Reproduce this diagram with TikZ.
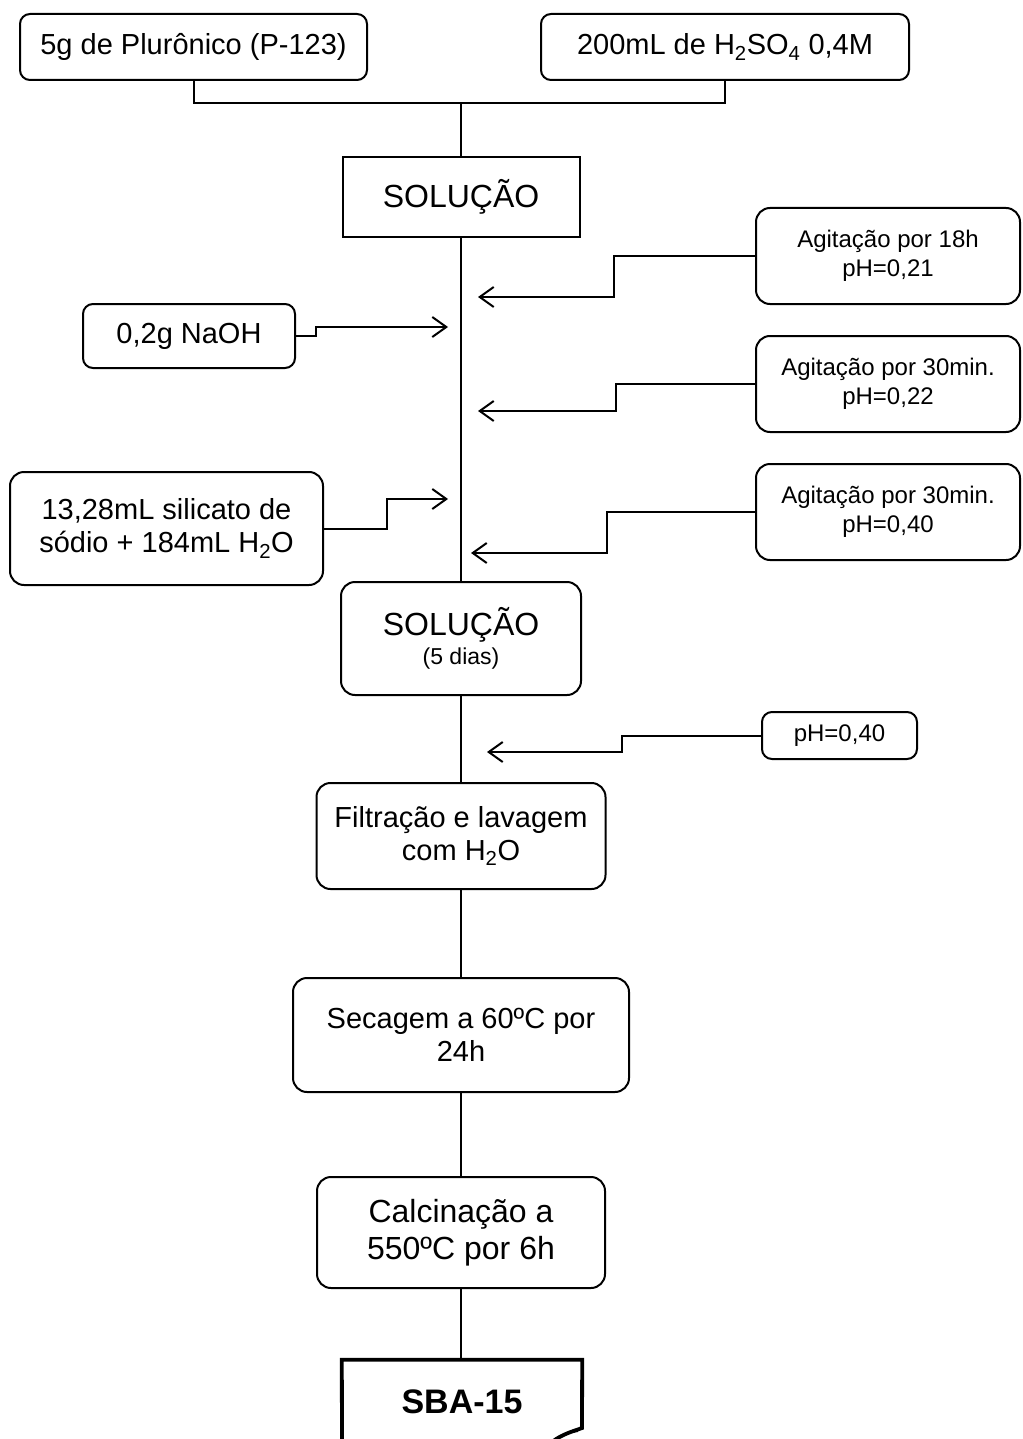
\documentclass[tikz,border=0pt]{standalone}
\usepackage{fontspec}
\setmainfont{Liberation Sans}
\usetikzlibrary{arrows.meta}
\begin{document}
\begin{tikzpicture}[x=1pt,y=-1pt,
  box/.style={draw, line width=2pt, rounded corners=14pt, align=center, inner sep=0pt},
  sbox/.style={box, rounded corners=10pt},
  fa/.style={font=\fontsize{29}{33}\selectfont},
  fb/.style={font=\fontsize{24}{29}\selectfont},
  fc/.style={font=\fontsize{32}{37}\selectfont},
  conn/.style={line width=2pt},
  arr/.style={line width=2pt, -{Straight Barb[length=14pt,width=20pt]}}]
\clip (0,0) rectangle (1022,1439);
\fill[white] (0,0) rectangle (1022,1439);

% top inputs
\node[sbox, fa, minimum width=347pt, minimum height=66pt] (p123) at (193.5,47) {5g de Plurônico (P-123)};
\node[sbox, fa, minimum width=368pt, minimum height=66pt] (acid) at (725,47) {200mL de H\textsubscript{2}SO\textsubscript{4} 0,4M};
\node[draw, line width=2pt, fc, minimum width=237pt, minimum height=80pt, inner sep=0pt] (sol1) at (461,197) {SOLUÇÃO};

% right-hand conditions
\node[box, fb, minimum width=264pt, minimum height=96pt] (ag1) at (888,256) {Agitação por 18h\\pH=0,21};
\node[box, fb, minimum width=264pt, minimum height=96pt] (ag2) at (888,384) {Agitação por 30min.\\pH=0,22};
\node[box, fb, minimum width=264pt, minimum height=96pt] (ag3) at (888,512) {Agitação por 30min.\\pH=0,40};

% left-hand additions
\node[sbox, fa, minimum width=212pt, minimum height=64pt] (naoh) at (189,336) {0,2g NaOH};
\node[box, fa, minimum width=313pt, minimum height=113pt] (silic) at (166.5,528.5) {13,28mL silicato de\\sódio + 184mL H\textsubscript{2}O};

% main chain
\node[box, font=\fontsize{32}{29}\selectfont, minimum width=240pt, minimum height=113pt] (sol2) at (461,638.5) {SOLUÇÃO\\{\fontsize{23}{29}\selectfont (5 dias)}};
\node[sbox, fb, minimum width=155pt, minimum height=47pt] (ph) at (839.5,735.5) {pH=0,40};
\node[box, fa, minimum width=289pt, minimum height=106pt] (filt) at (461,836) {Filtração e lavagem\\com H\textsubscript{2}O};
\node[box, fa, minimum width=336pt, minimum height=114pt] (sec) at (461,1035) {Secagem a 60ºC por\\24h};
\node[box, fc, minimum width=288pt, minimum height=111pt] (calc) at (461,1232.5) {Calcinação a\\550ºC por 6h};
\node[font=\bfseries\fontsize{34}{40}\selectfont, minimum width=240pt, minimum height=84pt, inner sep=0pt] (sba) at (462,1402) {SBA-15};

% SBA-15 document outline (cut by the page edge)
\coordinate (sbaA) at (342,1450);
\coordinate (sbaB) at (582,1428);
\coordinate (sbaC) at (552,1442);
\draw[line width=3.8pt, line join=miter] (sbaA) -- (sba.north west) -- (sba.north east) -- (sbaB)
  .. controls (574,1431) and (562,1434) .. (sbaC);
\draw[line width=2pt] (556,1439) .. controls (562,1434) and (570,1432) .. (578,1431);

% top junction
\coordinate (jl) at (193.5,103);
\coordinate (jr) at (725,103);
\coordinate (jm) at (461,103);
\draw[conn] (p123.south) -- (jl) -- (jr) -- (acid.south);
\draw[conn] (jm) -- (sol1.north);

% main vertical line
\draw[conn] (sol1.south) -- (sol2.north);
\draw[conn] (sol2.south) -- (filt.north);
\draw[conn] (filt.south) -- (sec.north);
\draw[conn] (sec.south) -- (calc.north);
\draw[conn] (calc.south) -- (sba.north -| calc.south);

% arrows from the right
\coordinate (t1) at (478,297);
\coordinate (t2) at (478,411);
\coordinate (t3) at (471,553);
\coordinate (t4) at (487,752);
\draw[arr] (ag1.west) -- (614,256) -- (614,297) -- (t1);
\draw[arr] (ag2.west) -- (616,384) -- (616,411) -- (t2);
\draw[arr] (ag3.west) -- (607,512) -- (607,553) -- (t3);
\draw[arr] (ph.west) -- (622,735.5) -- (622,752) -- (t4);

% arrows from the left
\coordinate (t5) at (448,327);
\coordinate (t6) at (448,499);
\draw[arr] (naoh.east) -- (316,336) -- (316,327) -- (t5);
\draw[arr] (silic.east) -- (387,528.5) -- (387,499) -- (t6);
\end{tikzpicture}
\end{document}
